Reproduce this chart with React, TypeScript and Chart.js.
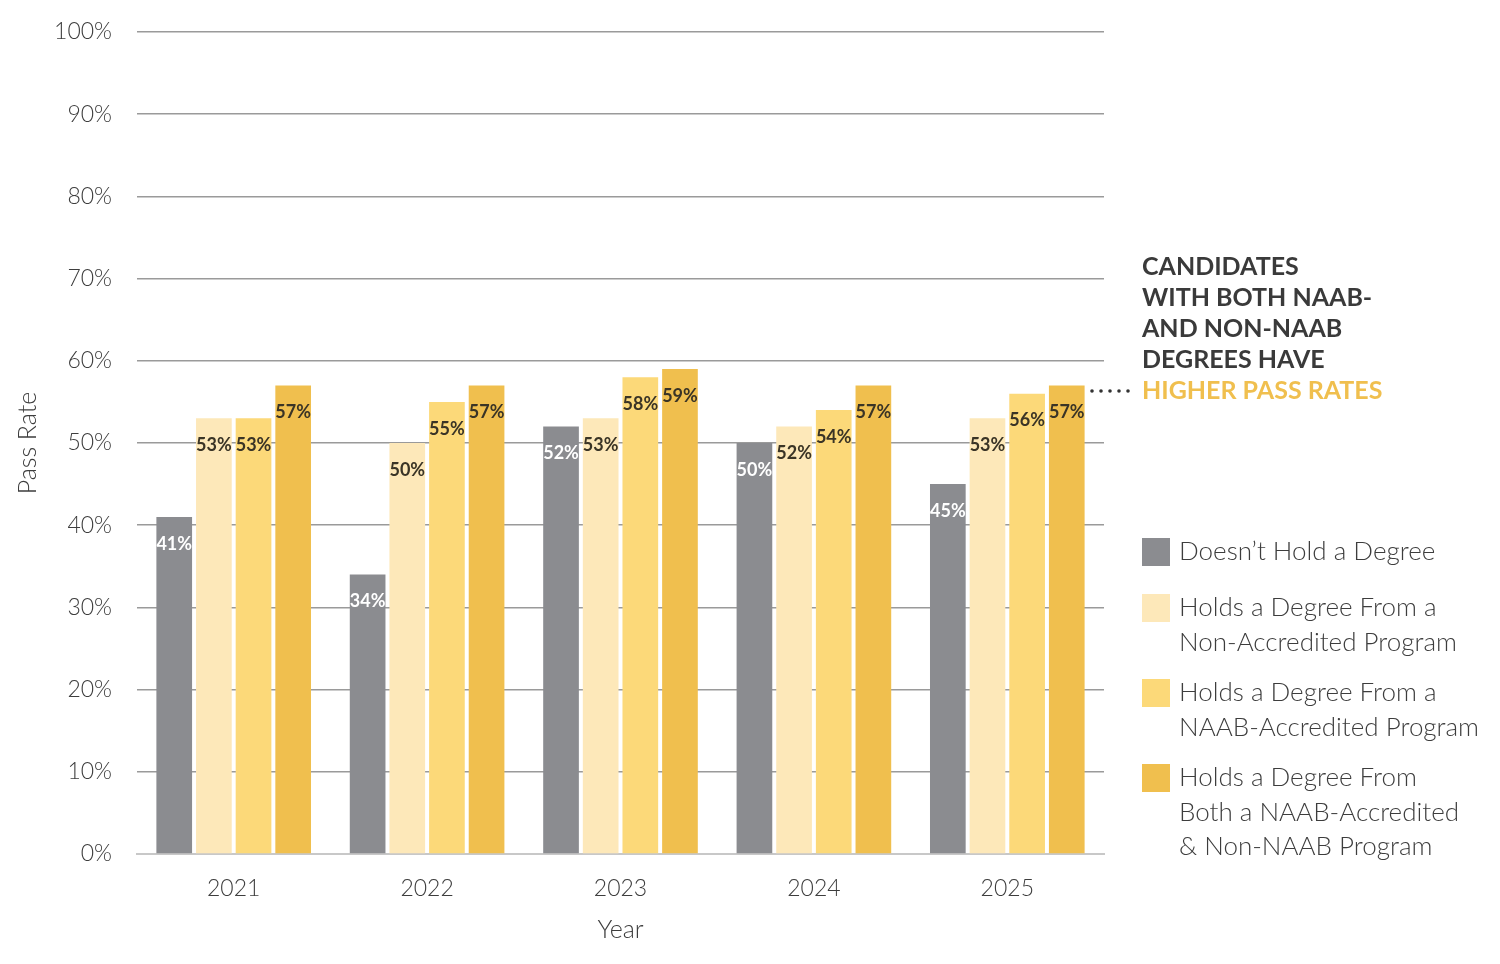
import React, { useEffect, useRef } from "react";
import { Chart, registerables } from "chart.js";

Chart.register(...registerables);

const years = ["2021", "2022", "2023", "2024", "2025"];
const noDegree = [41, 34, 52, 50, 45];
const nonAccredited = [53, 50, 53, 52, 53];
const naabAccredited = [53, 55, 58, 54, 56];
const bothPrograms = [57, 57, 59, 57, 57];

const seriesNames = [
  ["Doesn\u2019t Hold a Degree"],
  ["Holds a Degree From a", "Non-Accredited Program"],
  ["Holds a Degree From a", "NAAB-Accredited Program"],
  ["Holds a Degree From", "Both a NAAB-Accredited", "& Non-NAAB Program"],
];
const colors = ["#8b8c90", "#fde8b9", "#fcd979", "#f0bf4e"];
const yTicks = [0, 10, 20, 30, 40, 50, 60, 70, 80, 90, 100];
const annotationLines = ["CANDIDATES", "WITH BOTH NAAB-", "AND NON-NAAB", "DEGREES HAVE"];
const annotationHighlight = "HIGHER PASS RATES";

const FONT = "Lato, 'Open Sans', sans-serif";
const TEXT = "#3d3d3d";

export default function App() {
  const ref = useRef<HTMLCanvasElement | null>(null);

  useEffect(() => {
    const canvas = ref.current;
    if (!canvas) return;

    const overlay = {
      id: "overlay",
      afterDatasetsDraw(chart: any) {
        const ctx = chart.ctx;
        ctx.save();
        ctx.font = `700 18px ${FONT}`;
        ctx.textAlign = "center";
        ctx.textBaseline = "middle";
        chart.data.datasets.forEach((ds: any, di: number) => {
          const meta = chart.getDatasetMeta(di);
          meta.data.forEach((bar: any, i: number) => {
            ctx.fillStyle = di === 0 ? "#ffffff" : "#3a3426";
            ctx.fillText(ds.data[i] + "%", bar.x, bar.y + 27);
          });
        });
        ctx.restore();
      },
      afterDraw(chart: any) {
        const ctx = chart.ctx;
        const area = chart.chartArea;
        ctx.save();
        ctx.fillStyle = TEXT;
        ctx.font = `300 25px ${FONT}`;
        ctx.textAlign = "center";
        ctx.textBaseline = "middle";
        ctx.fillText("Year", (area.left + area.right) / 2, 930);
        ctx.save();
        ctx.translate(28, 443);
        ctx.rotate(-Math.PI / 2);
        ctx.fillText("Pass Rate", 0, 0);
        ctx.restore();

        const ax = 1142;
        ctx.textAlign = "left";
        ctx.font = `700 25px ${FONT}`;
        annotationLines.forEach((t, i) => {
          ctx.fillStyle = "#3a3a3a";
          ctx.fillText(t, ax, 267 + i * 31);
        });
        const hy = 267 + annotationLines.length * 31;
        ctx.fillStyle = "#f0bf4e";
        ctx.fillText(annotationHighlight, ax, hy);
        ctx.fillStyle = "#333333";
        for (let k = 0; k < 5; k++) {
          ctx.beginPath();
          ctx.arc(1092 + k * 9, hy, 1.8, 0, Math.PI * 2);
          ctx.fill();
        }

        const starts = [552, 608, 693, 778];
        ctx.font = `300 26px ${FONT}`;
        seriesNames.forEach((lines, i) => {
          ctx.fillStyle = colors[i];
          ctx.fillRect(1142, starts[i] - 14, 28, 28);
          ctx.fillStyle = TEXT;
          lines.forEach((l, j) => {
            ctx.fillText(l, 1179, starts[i] + j * 34.5);
          });
        });
        ctx.restore();
      },
    };

    const chart = new Chart(canvas, {
      type: "bar",
      data: {
        labels: years,
        datasets: [noDegree, nonAccredited, naabAccredited, bothPrograms].map((d, i) => ({
          label: seriesNames[i].join(" "),
          data: d,
          backgroundColor: colors[i],
          borderWidth: 0,
          categoryPercentage: 0.82,
          barPercentage: 0.9,
        })),
      },
      options: {
        responsive: false,
        animation: false,
        layout: { padding: { left: 0, right: 396, top: 32, bottom: 0 } },
        plugins: { legend: { display: false }, tooltip: { enabled: false } },
        scales: {
          x: {
            grid: { display: false, drawTicks: false },
            border: { display: true, color: "#c8c8c8", width: 2 },
            ticks: { color: TEXT, font: { family: FONT, size: 23, weight: "300" as any }, padding: 21 },
            afterFit: (s: any) => {
              s.height = 110;
              s.paddingLeft = 0;
              s.paddingRight = 0;
            },
          },
          y: {
            min: 0,
            max: 100,
            afterBuildTicks: (s: any) => {
              s.ticks = yTicks.map((v) => ({ value: v }));
            },
            grid: { color: "#9a9a9a", lineWidth: 1.5, drawTicks: false },
            border: { display: false },
            ticks: {
              color: TEXT,
              font: { family: FONT, size: 23, weight: "300" as any },
              padding: 25,
              callback: (v: any) => v + "%",
            },
            afterFit: (s: any) => {
              s.width = 137;
              s.paddingTop = 0;
              s.paddingBottom = 0;
            },
          },
        },
      },
      plugins: [overlay],
    });

    return () => chart.destroy();
  }, []);

  return (
    <div style={{ position: "absolute", left: 0, top: 0, width: 1500, height: 964, background: "#fff" }}>
      <canvas ref={ref} width={1500} height={964} style={{ display: "block" }} />
    </div>
  );
}
